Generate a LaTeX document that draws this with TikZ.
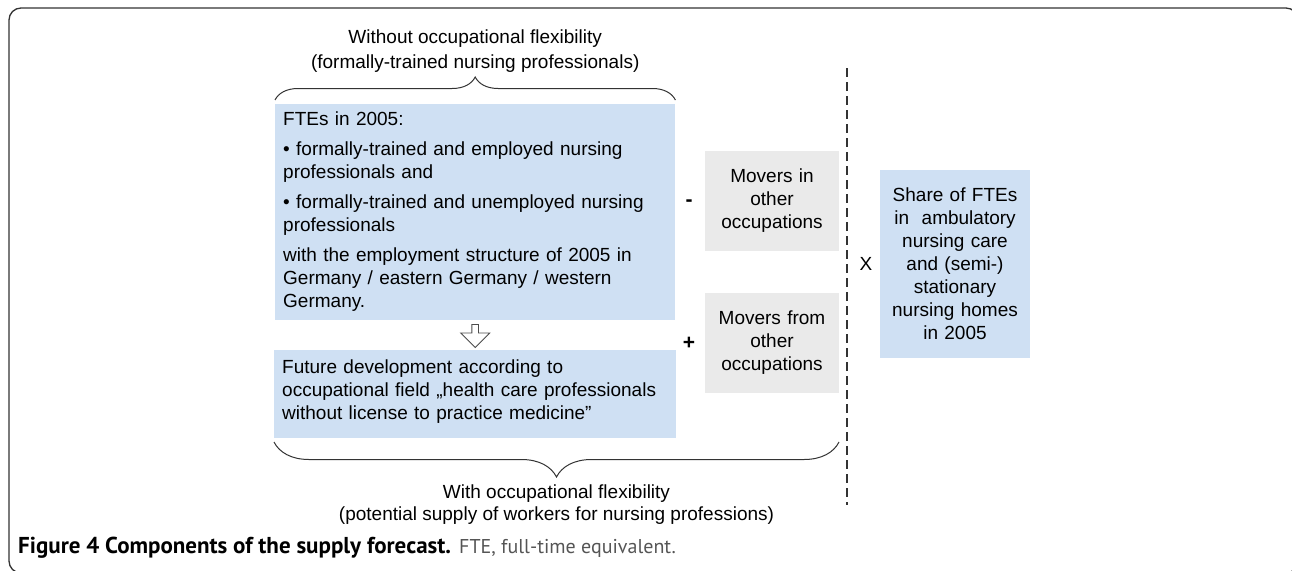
\documentclass[tikz,border=0pt]{standalone}
\usepackage{fontspec}
\setmainfont{Liberation Sans}
\newfontfamily\capfont{PT Sans}
\usetikzlibrary{shapes.arrows}
\usetikzlibrary{decorations.pathreplacing}
\usetikzlibrary{positioning}
\definecolor{boxblue}{RGB}{207,224,243}
\definecolor{boxgray}{RGB}{234,234,234}
\definecolor{capgray}{RGB}{85,85,85}
\tikzset{
    bluebox/.style={
           rectangle,
           fill=boxblue,
           inner sep=8pt,
           font=\fontsize{19}{23}\selectfont,
           },
    graybox/.style={
           rectangle,
           fill=boxgray,
           text width=130pt,
           minimum width=134pt,
           minimum height=100pt,
           inner sep=2pt,
           align=center,
           font=\fontsize{19}{23}\selectfont,
           },
    curly/.style={
           decorate,
           decoration={brace,amplitude=#1,aspect=0.5},
           draw=black!80, line width=1pt,
           },
    sign/.style={font=\fontsize{21}{21}\selectfont\bfseries, inner sep=0pt},
    label/.style={align=center, font=\fontsize{19}{25}\selectfont, inner sep=0pt},
}

\begin{document}
\begin{tikzpicture}[x=1pt,y=-1pt]
  \useasboundingbox (0,0) rectangle (1292,570);
  \clip (0,0) rectangle (1292,570);

  % outer frame, cut off at the right and at the bottom
  \draw[black!80, line width=1.3pt, rounded corners=12pt] (9,8) rectangle (1298,573);

   % left column: stock of 2005 and its development
   \node[bluebox,text width=384pt,minimum height=213pt,
    anchor=north west] (FTE) at (275,104)   % top left corner of the box
    {FTEs in 2005:\\[7pt]
     \textbullet\ formally-trained and employed nursing\\
     professionals and\\[7pt]
     \textbullet\ formally-trained and unemployed nursing\\
     professionals\\[7pt]
     with the employment structure of 2005 in\\
     Germany / eastern Germany / western\\
     Germany.};

   \node[single arrow,          % hollow arrow pointing down
    shape border rotate=270,
    draw=black!70, fill=white, line width=0.8pt,
    minimum height=23pt, minimum width=29pt,
    single arrow head extend=8pt, inner sep=2pt,
    below=4pt of FTE] (DOWN) {};

   % strut at the end keeps the text in the upper part of the box
   \node[bluebox,text width=386pt,minimum height=88pt,
    below=2pt of DOWN] (FUTURE)
    {Future development according to\\
     occupational field \char"201E health care professionals\\
     without license to practice medicine\char"201D\rule[-10pt]{0pt}{10pt}};

   % movers between the occupations
   \node[graybox] (MOVIN) at (772,201)
    {Movers in\\ other\\ occupations};
   \node[graybox] (MOVFROM) at (772,343)
    {Movers from\\ other\\ occupations};
   \node[sign] (MINUS) at (689,203) {-};
   \node[sign] (PLUS) at (689,343) {+};

   % separator and share of the nursing sectors
   \coordinate (SEPTOP) at (847,68);
   \coordinate (SEPBOT) at (847,505);
   \draw[black!80, line width=2.2pt, dash pattern=on 9pt off 5pt] (SEPTOP) -- (SEPBOT);
   \node[label] (TIMES) at (866,264) {X};
   \node[bluebox,text width=134pt,minimum height=188pt,align=center,
    inner sep=8pt] (SHARE) at (955,264)
    {Share of FTEs\\ in\ \ ambulatory\\ nursing care\\ and (semi-)\\
     stationary\\ nursing homes\\ in 2005};

   % braces and their labels
   \draw[curly=23pt] ([yshift=4pt]FTE.north west) -- ([yshift=4pt]FTE.north east)
    node[midway, above=27pt, label] (WITHOUT)
    {Without occupational flexibility\\(formally-trained nursing professionals)};
   \coordinate (BRL) at (274,442);
   \coordinate (BRR) at (839,442);
   \draw[curly=35pt] (BRR) -- (BRL)
    node[midway, below=42pt, label, font=\fontsize{19}{22}\selectfont] (WITH)
    {With occupational flexibility\\(potential supply of workers for nursing professions)};

   % caption
   \node[anchor=west, inner sep=0pt, font=\capfont\fontsize{23}{26}\selectfont] (CAPTION) at (18,548)
    {\textbf{Figure 4 Components of the supply forecast.} {\fontsize{20}{26}\selectfont\textcolor{capgray}{FTE, full-time equivalent.}}};
\end{tikzpicture}
\end{document}
